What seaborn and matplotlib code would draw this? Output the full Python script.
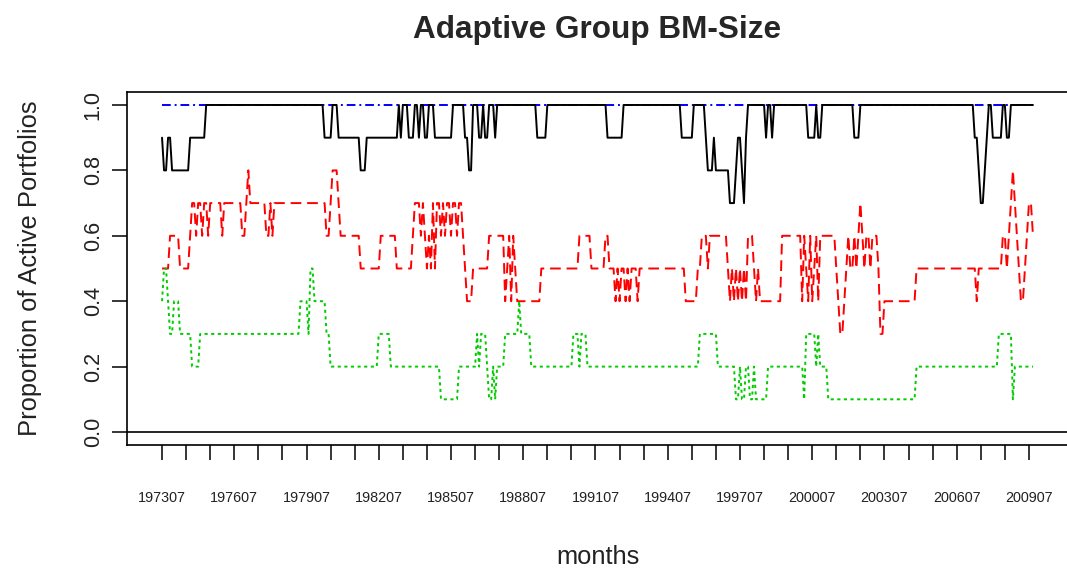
import numpy as np
import pandas as pd
import matplotlib
matplotlib.use("Agg")
import matplotlib.pyplot as plt
import seaborn as sns

sns.set_style("ticks")
plt.rcParams['font.family'] = ['Liberation Sans', 'DejaVu Sans']

# Monthly proportions, stored as step levels + number of months at each level
black_levels = [0.9, 0.8, 0.9, 0.8, 0.9, 1.0, 0.9, 1.0, 0.9, 0.8, 0.9, 1.0, 0.9, 1.0, 0.9, 1.0,
                0.9, 1.0, 0.9, 1.0, 0.9, 1.0, 0.9, 0.8, 1.0, 0.9, 1.0, 0.9, 1.0, 0.9, 1.0, 0.9,
                1.0, 0.9, 1.0, 0.9, 1.0, 0.9, 0.8, 0.9, 0.8, 0.7, 0.8, 0.9, 0.8, 0.7, 0.9, 1.0,
                0.9, 1.0, 0.9, 1.0, 0.9, 1.0, 0.9, 1.0, 0.9, 1.0, 0.9, 0.8, 0.7, 0.8, 0.9, 1.0,
                0.9, 1.0, 0.9, 1.0]
black_runs = [1, 2, 2, 9, 8, 59, 4, 3, 11, 3, 16, 1, 1, 3, 3, 2,
              1, 2, 2, 3, 9, 6, 2, 2, 3, 2, 1, 2, 3, 1, 20, 5,
              30, 8, 29, 6, 6, 1, 3, 1, 7, 3, 1, 2, 1, 1, 1, 9,
              1, 2, 1, 17, 4, 1, 2, 16, 3, 57, 2, 1, 2, 1, 1, 2,
              5, 2, 2, 12]

red_levels = [0.5, 0.6, 0.5, 0.6, 0.7, 0.6, 0.7, 0.6, 0.7, 0.6, 0.7, 0.6, 0.7, 0.6, 0.7, 0.8,
              0.7, 0.6, 0.7, 0.6, 0.7, 0.6, 0.7, 0.8, 0.7, 0.6, 0.5, 0.6, 0.5, 0.6, 0.7, 0.6,
              0.7, 0.6, 0.5, 0.6, 0.5, 0.7, 0.5, 0.7, 0.6, 0.7, 0.6, 0.7, 0.6, 0.7, 0.6, 0.7,
              0.6, 0.5, 0.4, 0.5, 0.6, 0.4, 0.5, 0.6, 0.4, 0.6, 0.5, 0.4, 0.5, 0.6, 0.5, 0.6,
              0.5, 0.4, 0.5, 0.4, 0.5, 0.4, 0.5, 0.4, 0.5, 0.4, 0.5, 0.4, 0.5, 0.6, 0.5, 0.6,
              0.5, 0.4, 0.5, 0.4, 0.5, 0.4, 0.5, 0.4, 0.5, 0.4, 0.6, 0.5, 0.4, 0.5, 0.4, 0.6,
              0.4, 0.6, 0.5, 0.4, 0.6, 0.4, 0.5, 0.6, 0.4, 0.6, 0.5, 0.4, 0.3, 0.4, 0.5, 0.6,
              0.5, 0.6, 0.5, 0.6, 0.7, 0.6, 0.5, 0.6, 0.5, 0.6, 0.5, 0.3, 0.4, 0.5, 0.4, 0.5,
              0.6, 0.5, 0.6, 0.7, 0.8, 0.7, 0.6, 0.5, 0.4, 0.5, 0.6, 0.7, 0.6]
red_runs = [4, 5, 5, 1, 2, 1, 2, 1, 2, 1, 6, 1, 9, 2, 1, 1,
            8, 2, 1, 1, 26, 2, 1, 3, 1, 10, 10, 8, 8, 1, 3, 1,
            1, 1, 1, 1, 1, 1, 1, 2, 1, 1, 1, 2, 1, 2, 1, 2,
            1, 1, 3, 8, 8, 1, 1, 1, 1, 1, 1, 12, 19, 6, 7, 2,
            3, 1, 1, 1, 2, 1, 1, 1, 3, 1, 23, 6, 2, 3, 1, 9,
            1, 1, 1, 1, 1, 1, 1, 1, 1, 1, 3, 1, 1, 1, 11, 10,
            1, 1, 1, 1, 1, 1, 1, 1, 1, 8, 1, 1, 2, 1, 1, 1,
            2, 1, 1, 1, 1, 1, 1, 2, 1, 3, 1, 2, 16, 30, 1, 12,
            2, 1, 1, 1, 1, 1, 1, 1, 2, 1, 1, 2, 1]

green_levels = [0.4, 0.5, 0.4, 0.3, 0.4, 0.3, 0.2, 0.3, 0.4, 0.3, 0.5, 0.4, 0.3, 0.2, 0.3, 0.2,
                0.1, 0.2, 0.3, 0.2, 0.3, 0.2, 0.1, 0.2, 0.1, 0.2, 0.3, 0.4, 0.3, 0.2, 0.3, 0.2,
                0.3, 0.2, 0.3, 0.2, 0.1, 0.2, 0.1, 0.2, 0.1, 0.2, 0.1, 0.2, 0.1, 0.3, 0.2, 0.3,
                0.2, 0.1, 0.2, 0.3, 0.1, 0.2]
green_runs = [1, 2, 1, 2, 3, 6, 4, 50, 4, 1, 2, 6, 2, 24, 6, 25,
              9, 9, 1, 1, 3, 1, 2, 1, 1, 4, 7, 1, 5, 21, 3, 1,
              3, 56, 9, 9, 2, 1, 2, 2, 2, 1, 6, 18, 1, 5, 1, 1,
              4, 44, 41, 7, 1, 10]

blue_levels = [1.0]
blue_runs = [435]

x_tick_labels = [f"{yr}07" for yr in range(1973, 2010)]

df = pd.DataFrame({
    'month': np.arange(sum(black_runs)),
    'black': np.repeat(black_levels, black_runs),
    'red': np.repeat(red_levels, red_runs),
    'green': np.repeat(green_levels, green_runs),
    'blue': np.repeat(blue_levels, blue_runs),
})
n = len(df)

W, H = 1067, 572
fig = plt.figure(figsize=(W / 100, H / 100), dpi=100)
ax = fig.add_axes([127.2 / W, (H - 445.1) / H, 940.6 / W, 353.2 / H])

lw = 1.4
sns.lineplot(data=df, x='month', y='blue', ax=ax, color='blue', lw=lw,
             linestyle=(0, (4.5, 2, 1, 2)), errorbar=None, zorder=2)
sns.lineplot(data=df, x='month', y='black', ax=ax, color='black', lw=lw,
             errorbar=None, zorder=3)
sns.lineplot(data=df, x='month', y='red', ax=ax, color='red', lw=lw,
             linestyle=(0, (5.5, 3)), errorbar=None, zorder=3)
sns.lineplot(data=df, x='month', y='green', ax=ax, color='#00cc00', lw=lw,
             linestyle=(0, (1.6, 1.8)), errorbar=None, zorder=3)
ax.axhline(0, color='black', lw=1.2, zorder=1)

ax.set_xlim(-0.04 * (n - 1), (n - 1) * 1.04)
ax.set_ylim(-0.04, 1.04)

xt = np.arange(0, n, 12)
ax.set_xticks(xt)
ax.set_xticklabels([lab if i % 3 == 0 else '' for i, lab in enumerate(x_tick_labels)])
yt = [0.0, 0.2, 0.4, 0.6, 0.8, 1.0]
ax.set_yticks(yt)
ax.set_yticklabels([f"{v:.1f}" for v in yt], rotation=90, va='center')

ax.tick_params(axis='x', direction='out', length=10.8, width=1.1, pad=22,
               labelsize=10.4, colors='black', labelcolor='#222222')
ax.tick_params(axis='y', direction='out', length=10.8, width=1.1, pad=6,
               labelsize=15.5, colors='black', labelcolor='#222222')

for s in ax.spines.values():
    s.set_visible(True)
    s.set_color('black')
    s.set_linewidth(1.2)

ax.set_title('Adaptive Group BM-Size', fontsize=22.7, fontweight='bold',
             y=(445.1 - 30) / 353.2, va='center', pad=0)
ax.set_ylabel('Proportion of Active Portfolios', fontsize=18.4, va='center', color='#222222')
ax.yaxis.set_label_coords((30 - 127.2) / 940.6, 0.5)
ax.set_xlabel('months', fontsize=18.4, va='center', color='#222222')
ax.xaxis.set_label_coords(0.5, (445.1 - 557) / 353.2)

fig.savefig('out.png', dpi=100)
